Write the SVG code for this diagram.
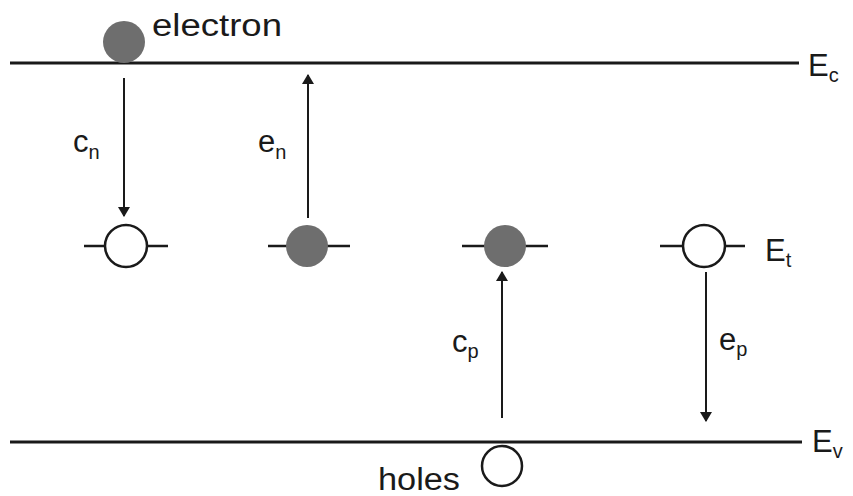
<svg xmlns="http://www.w3.org/2000/svg" width="853" height="496" viewBox="0 0 853 496">
<defs>
<marker id="ah" viewBox="0 0 10 14" refX="9" refY="7" markerWidth="10" markerHeight="14" markerUnits="userSpaceOnUse" orient="auto">
<path d="M0,1 L14,7 L0,13 z" transform="scale(0.72,1)" fill="#1a1a1a"/>
</marker>
<style>
.ln{stroke:#1a1a1a;stroke-width:3;fill:none}
.lv{stroke:#1a1a1a;stroke-width:2.5;fill:none}
.open{fill:#fff;stroke:#1a1a1a;stroke-width:2.5}
.full{fill:#6e6e6e;stroke:none}
.t{font-family:"Liberation Sans",Arial,sans-serif;font-size:31px;fill:#1a1a1a}
.s{font-size:20px}
.ar{stroke:#1a1a1a;stroke-width:2;fill:none;marker-end:url(#ah)}
</style>
</defs>
<rect width="853" height="496" fill="#fff"/>
<g id="Ec">
<line class="ln" x1="10" y1="63" x2="799" y2="63"/>
<text class="t" x="808" y="76">E<tspan class="s" dy="6">c</tspan></text>
</g>
<g id="Ev">
<line class="ln" x1="10" y1="442" x2="802" y2="442"/>
<text class="t" x="812" y="452">E<tspan class="s" dy="6">v</tspan></text>
</g>
<g id="electron">
<circle class="full" cx="124" cy="42" r="21"/>
<text class="t" x="152" y="36" textLength="130" lengthAdjust="spacingAndGlyphs">electron</text>
</g>
<g id="holes">
<circle class="open" cx="502" cy="466" r="20"/>
<text class="t" x="378" y="490" textLength="82" lengthAdjust="spacingAndGlyphs">holes</text>
</g>
<g id="trap1">
<line class="lv" x1="84" y1="246" x2="168" y2="246"/>
<circle class="open" cx="126" cy="246" r="21"/>
</g>
<g id="trap2">
<line class="lv" x1="268" y1="246" x2="350" y2="246"/>
<circle class="full" cx="307" cy="246" r="21"/>
</g>
<g id="trap3">
<line class="lv" x1="462" y1="246" x2="548" y2="246"/>
<circle class="full" cx="505" cy="246" r="21"/>
</g>
<g id="trap4">
<line class="lv" x1="660" y1="246" x2="745" y2="246"/>
<circle class="open" cx="704" cy="246" r="21"/>
<text class="t" x="765" y="261">E<tspan class="s" dy="6">t</tspan></text>
</g>
<g id="connectors">
<line class="ar" x1="124" y1="78" x2="124" y2="216"/>
<line class="ar" x1="308" y1="218" x2="308" y2="75"/>
<line class="ar" x1="502" y1="418" x2="502" y2="272"/>
<line class="ar" x1="706" y1="272" x2="706" y2="421"/>
</g>
<g id="labels">
<text class="t" x="73" y="152">c<tspan class="s" dy="7">n</tspan></text>
<text class="t" x="258" y="152">e<tspan class="s" dy="7">n</tspan></text>
<text class="t" x="452" y="352">c<tspan class="s" dy="6">p</tspan></text>
<text class="t" x="719" y="350">e<tspan class="s" dy="6">p</tspan></text>
</g>
</svg>
